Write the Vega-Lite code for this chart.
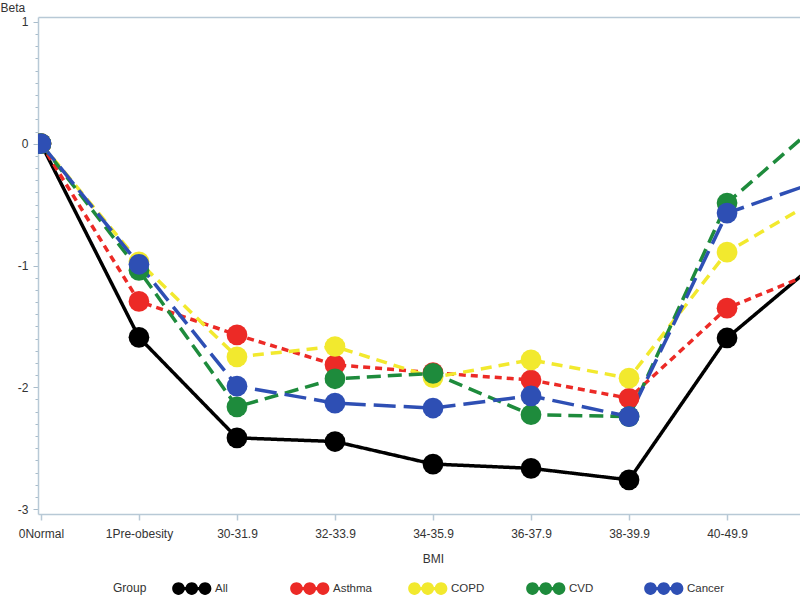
{
  "$schema": "https://vega.github.io/schema/vega-lite/v6.json",
  "width": 762,
  "height": 497,
  "autosize": {"type": "none"},
  "padding": {"left": 38, "top": 17, "right": 0, "bottom": 83},
  "background": "white",
  "config": {
    "font": "Liberation Sans",
    "view": {"stroke": null}
  },
  "data": {
    "values": [
      {"group": "All", "bmi": "0Normal", "beta": 0},
      {"group": "All", "bmi": "1Pre-obesity", "beta": -1.59},
      {"group": "All", "bmi": "30-31.9", "beta": -2.415},
      {"group": "All", "bmi": "32-33.9", "beta": -2.445},
      {"group": "All", "bmi": "34-35.9", "beta": -2.63},
      {"group": "All", "bmi": "36-37.9", "beta": -2.665},
      {"group": "All", "bmi": "38-39.9", "beta": -2.76},
      {"group": "All", "bmi": "40-49.9", "beta": -1.595},
      {"group": "All", "bmi": "≥50", "beta": -0.92},
      {"group": "Asthma", "bmi": "0Normal", "beta": 0},
      {"group": "Asthma", "bmi": "1Pre-obesity", "beta": -1.295},
      {"group": "Asthma", "bmi": "30-31.9", "beta": -1.57},
      {"group": "Asthma", "bmi": "32-33.9", "beta": -1.815},
      {"group": "Asthma", "bmi": "34-35.9", "beta": -1.88},
      {"group": "Asthma", "bmi": "36-37.9", "beta": -1.94},
      {"group": "Asthma", "bmi": "38-39.9", "beta": -2.09},
      {"group": "Asthma", "bmi": "40-49.9", "beta": -1.35},
      {"group": "Asthma", "bmi": "≥50", "beta": -1.02},
      {"group": "COPD", "bmi": "0Normal", "beta": 0},
      {"group": "COPD", "bmi": "1Pre-obesity", "beta": -0.97},
      {"group": "COPD", "bmi": "30-31.9", "beta": -1.75},
      {"group": "COPD", "bmi": "32-33.9", "beta": -1.665},
      {"group": "COPD", "bmi": "34-35.9", "beta": -1.92},
      {"group": "COPD", "bmi": "36-37.9", "beta": -1.775},
      {"group": "COPD", "bmi": "38-39.9", "beta": -1.925},
      {"group": "COPD", "bmi": "40-49.9", "beta": -0.89},
      {"group": "COPD", "bmi": "≥50", "beta": -0.42},
      {"group": "CVD", "bmi": "0Normal", "beta": 0},
      {"group": "CVD", "bmi": "1Pre-obesity", "beta": -1.04},
      {"group": "CVD", "bmi": "30-31.9", "beta": -2.16},
      {"group": "CVD", "bmi": "32-33.9", "beta": -1.93},
      {"group": "CVD", "bmi": "34-35.9", "beta": -1.885},
      {"group": "CVD", "bmi": "36-37.9", "beta": -2.225},
      {"group": "CVD", "bmi": "38-39.9", "beta": -2.24},
      {"group": "CVD", "bmi": "40-49.9", "beta": -0.487},
      {"group": "CVD", "bmi": "≥50", "beta": 0.21},
      {"group": "Cancer", "bmi": "0Normal", "beta": 0},
      {"group": "Cancer", "bmi": "1Pre-obesity", "beta": -0.99},
      {"group": "Cancer", "bmi": "30-31.9", "beta": -1.99},
      {"group": "Cancer", "bmi": "32-33.9", "beta": -2.13},
      {"group": "Cancer", "bmi": "34-35.9", "beta": -2.17},
      {"group": "Cancer", "bmi": "36-37.9", "beta": -2.07},
      {"group": "Cancer", "bmi": "38-39.9", "beta": -2.24},
      {"group": "Cancer", "bmi": "40-49.9", "beta": -0.57},
      {"group": "Cancer", "bmi": "≥50", "beta": -0.29}
    ]
  },
  "encoding": {
    "y": {
      "field": "beta",
      "type": "quantitative",
      "scale": {"domain": [-3.04, 1.04], "nice": false, "zero": false},
      "axis": {
        "title": "Beta",
        "titleAngle": 0,
        "titleX": -38,
        "titleY": -6,
        "titleAlign": "left",
        "titleBaseline": "alphabetic",
        "titleFontSize": 12,
        "titleFontWeight": "normal",
        "titleColor": "#333333",
        "grid": false,
        "values": [-3, -2.9, -2.8, -2.7, -2.6, -2.5, -2.4, -2.3, -2.2, -2.1, -2, -1.9, -1.8, -1.7, -1.6, -1.5, -1.4, -1.3, -1.2, -1.1, -1, -0.9, -0.8, -0.7, -0.6, -0.5, -0.4, -0.3, -0.2, -0.1, 0, 0.1, 0.2, 0.3, 0.4, 0.5, 0.6, 0.7, 0.8, 0.9, 1],
        "labelExpr": "datum.value % 1 === 0 ? toString(datum.value) : ''",
        "labelOverlap": false,
        "labelFontSize": 12,
        "labelColor": "#333333",
        "labelPadding": 5,
        "domainColor": "#b8c9d6",
        "domainWidth": 1.5,
        "tickColor": "#a9bccb",
        "tickSize": {"condition": {"test": "datum.value % 1 === 0", "value": 5}, "value": 3}
      }
    },
    "color": {
      "field": "group",
      "type": "nominal",
      "scale": {
        "domain": ["All", "Asthma", "COPD", "CVD", "Cancer"],
        "range": ["#000000", "#ec2a26", "#f2e92e", "#1e8b3c", "#2e4fb4"]
      },
      "legend": {
        "title": "Group",
        "orient": "none",
        "legendX": 75,
        "legendY": 565,
        "direction": "horizontal",
        "columns": 5,
        "titleOrient": "left",
        "titleFontSize": 12,
        "titleFontWeight": "normal",
        "titleColor": "#333333",
        "titlePadding": 25,
        "labelFontSize": 11.5,
        "labelColor": "#333333",
        "labelOffset": 30,
        "columnPadding": 36,
        "gridAlign": "all",
        "symbolSize": 160,
        "symbolType": "M-1,0A1,1,0,1,0,1,0A1,1,0,1,0,-1,0Z M1.1,0A1,1,0,1,0,3.1,0A1,1,0,1,0,1.1,0Z M3.2,0A1,1,0,1,0,5.2,0A1,1,0,1,0,3.2,0Z M0,-0.25V0.25H4.2V-0.25Z",
        "symbolStrokeWidth": 0,
        "symbolDash": [1, 0],
        "symbolOpacity": 1
      }
    }
  },
  "layer": [
    {
      "mark": {"type": "line", "strokeWidth": 3.5, "clip": true},
      "encoding": {
        "x": {
          "field": "bmi",
          "type": "nominal",
          "scale": {
            "type": "point",
            "domain": ["0Normal", "1Pre-obesity", "30-31.9", "32-33.9", "34-35.9", "36-37.9", "38-39.9", "40-49.9", "≥50"],
            "range": [0, 790],
            "padding": 0.03
          },
          "axis": {
            "title": "BMI",
            "labelAngle": 0,
            "grid": false,
            "domainColor": "#b8c9d6",
            "domainWidth": 1.5,
            "tickColor": "#b8c9d6",
            "tickWidth": 1.5,
            "tickSize": 6,
            "labelPadding": 8,
            "labelFontSize": 12,
            "labelColor": "#333333",
            "labelOverlap": false,
            "labelExpr": "datum.value === '≥50' ? '' : datum.label",
            "titleFontSize": 12,
            "titleFontWeight": "normal",
            "titleColor": "#333333",
            "titlePadding": 14
          }
        },
        "strokeDash": {
          "field": "group",
          "type": "nominal",
          "scale": {
            "domain": ["All", "Asthma", "COPD", "CVD", "Cancer"],
            "range": [[1, 0], [7, 5], [11, 7], [14, 7], [22, 8]]
          },
          "legend": null
        }
      }
    },
    {
      "mark": {"type": "point", "filled": true, "opacity": 1, "size": 430, "clip": true},
      "encoding": {
        "x": {
          "field": "bmi",
          "type": "nominal",
          "axis": {"orient": "top", "labels": false, "ticks": false, "title": null, "domainColor": "#b8c9d6", "domainWidth": 1.5}
        }
      }
    }
  ],
  "resolve": {"axis": {"x": "independent"}}
}
